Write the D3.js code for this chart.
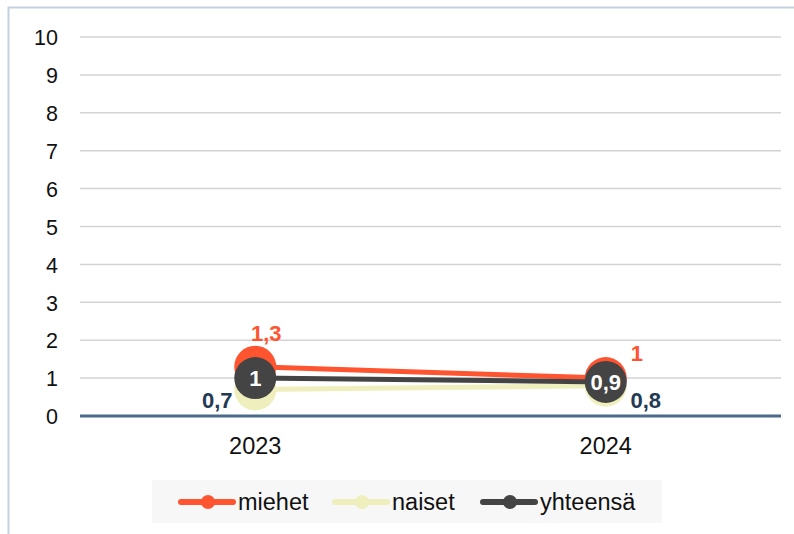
<!DOCTYPE html>
<html><head><meta charset="utf-8">
<script src="https://cdn.jsdelivr.net/npm/d3@7"></script>
<style>body{margin:0;background:#fff;}svg{font-family:"Liberation Sans",Arial,sans-serif;}</style>
</head><body>
<svg id="c" width="794" height="534"></svg>
<script>
const categories = ["2023", "2024"];
const miehet = [1.3, 1];
const naiset = [0.7, 0.8];
const yhteensa = [1, 0.9];
const yTicks = [0,1,2,3,4,5,6,7,8,9,10];
const seriesNames = ["miehet", "naiset", "yhteensä"];

const svg = d3.select("#c");
svg.append("path").attr("d","M8.5,534 L8.5,7.5 L794,7.5").attr("fill","none").attr("stroke","#c3d1e0").attr("stroke-width",2);

const m = {l:80, r:781, t:37, b:416};
const x = d3.scaleBand().domain(categories).range([m.l, m.r]);
const y = d3.scaleLinear().domain([0,10]).range([m.b, m.t]);

svg.append("g").selectAll("line").data(yTicks.filter(d=>d>0)).join("line")
  .attr("x1", m.l).attr("x2", m.r).attr("y1", d=>y(d)).attr("y2", d=>y(d))
  .attr("stroke","#d3d3d3").attr("stroke-width",1.5);

const ya = svg.append("g").attr("transform",`translate(${m.l-22},0)`)
  .call(d3.axisLeft(y).tickValues(yTicks).tickSize(0).tickFormat(d=>d));
ya.select(".domain").remove();
ya.selectAll("text").attr("font-size",21.5).attr("fill","#111").attr("font-family","Liberation Sans, Arial, sans-serif").attr("dy","0.36em").attr("x",0);

const xa = svg.append("g").attr("transform",`translate(0,${m.b+18})`)
  .call(d3.axisBottom(x).tickSize(0));
xa.select(".domain").remove();
xa.selectAll("text").attr("font-size",23.5).attr("fill","#111").attr("font-family","Liberation Sans, Arial, sans-serif").attr("dy","0.71em");

svg.append("line").attr("x1",m.l).attr("x2",m.r).attr("y1",y(0)).attr("y2",y(0))
  .attr("stroke","#4b6a89").attr("stroke-width",3);

const cx = c => x(c) + x.bandwidth()/2;
const colors = ["#ff5430", "#efefbd", "#444444"];
const series = [miehet, naiset, yhteensa];
const line = d3.line().x((d,i)=>cx(categories[i])).y(d=>y(d));

series.forEach((vals, si) => {
  const g = svg.append("g");
  g.append("path").datum(vals).attr("d", line).attr("fill","none")
    .attr("stroke", colors[si]).attr("stroke-width",5);
  g.selectAll("circle").data(vals).join("circle")
    .attr("cx",(d,i)=>cx(categories[i])).attr("cy",d=>y(d)).attr("r",21)
    .attr("fill",colors[si]);
});

const fmt = d => String(d).replace(".", ",");
const lab = svg.append("g").attr("font-weight","bold").attr("font-size",22);
miehet.forEach((d,i)=>{
  const off = i===0 ? [11,-25.5] : [31,-17];
  lab.append("text").attr("x",cx(categories[i])+off[0]).attr("y",y(d)+off[1])
    .attr("text-anchor","middle").attr("fill","#ff5430").text(fmt(d));
});
naiset.forEach((d,i)=>{
  const off = i===0 ? [-38,18.5] : [40,22];
  lab.append("text").attr("x",cx(categories[i])+off[0]).attr("y",y(d)+off[1])
    .attr("text-anchor","middle").attr("fill","#233a55").text(fmt(d));
});
yhteensa.forEach((d,i)=>{
  lab.append("text").attr("x",cx(categories[i])).attr("y",y(d))
    .attr("text-anchor","middle").attr("dy","0.36em").attr("fill","#ffffff").text(fmt(d));
});

const lg = svg.append("g");
lg.append("rect").attr("x",152).attr("y",480).attr("width",510).attr("height",43).attr("fill","#f7f7f7");
const lx = [179, 333, 481];
seriesNames.forEach((n,i)=>{
  const gi = lg.append("g").attr("transform",`translate(${lx[i]},502)`);
  gi.append("line").attr("x1",2).attr("x2",54).attr("y1",0).attr("y2",0)
    .attr("stroke",colors[i]).attr("stroke-width",6).attr("stroke-linecap","round");
  gi.append("circle").attr("cx",29).attr("cy",0).attr("r",7).attr("fill",colors[i]);
  gi.append("text").attr("x",59).attr("y",0).attr("dy","0.35em").attr("font-size",23.5).attr("fill","#111").text(n);
});
</script>
</body></html>
